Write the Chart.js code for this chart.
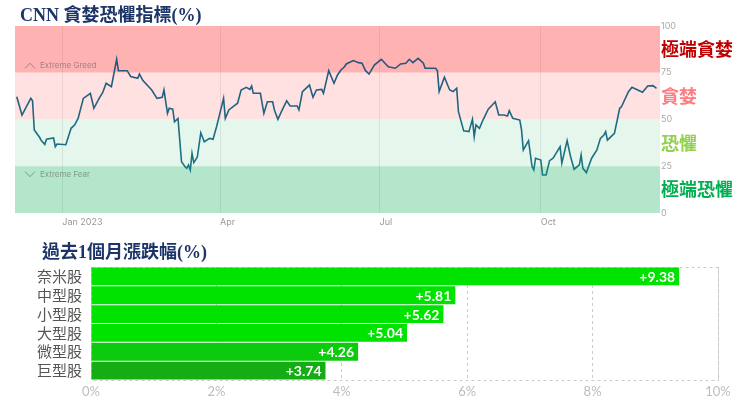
<!DOCTYPE html>
<html>
<head>
<meta charset="utf-8">
<script src="https://cdn.jsdelivr.net/npm/chart.js@4.4.0/dist/chart.umd.min.js"></script>
<style>
  body { margin: 0; background: #fff; }
  #wrap { position: relative; width: 740px; height: 399px; overflow: hidden; }
  #fgChart { position: absolute; left: 0; top: 0; }
  #barChart { position: absolute; left: 0; top: 233px; }
</style>
</head>
<body>
<div id="wrap">
  <canvas id="fgChart" width="740" height="233" style="width:740px;height:233px"></canvas>
  <canvas id="barChart" width="740" height="166" style="width:740px;height:166px"></canvas>
</div>
<script>
// ---- data for the fear & greed line (x = days since 1 Jan 2023) ----
let fgDays = [-26,-23,-18,-17,-16,-13,-12,-10,-9,-5,-4,-3,2,5,7,9,12,16,18,21,23,25,28,31,32,37,39,43,44,46,
  51,54,57,58,60,61,63,64,66,68,70,71,72,73,74,75,77,79,81,84,86,88,92,93,95,100,102,105,107,108,
  109,113,115,117,120,121,123,125,128,130,134,135,137,141,143,145,148,149,152,155,157,159,161,162,166,169,171,173,175,178,
  182,186,190,193,196,198,200,203,206,207,213,214,215,218,221,223,225,226,229,232,234,235,236,238,240,243,247,249,252,254,
  255,257,261,262,263,266,268,269,270,273,274,276,278,280,284,285,288,290,292,295,296,297,299,302,305,307,309,310,311,315,
  318,319,323,325,331,334,337,339]
let fgValues = [62.2,52.4,61.3,60,44.4,40.5,38.7,36.7,39.4,40.1,35.5,36.9,36.5,45.3,47,50.6,61.3,64,56,61.3,64.3,69.4,67.6,82.2,76.1,76.1,73,72,74.3,70.8,
  65.8,61.3,61.9,65.8,53.3,56,55.5,48.8,50.6,27.4,24.8,23.9,25.7,23,31.9,26.9,29.8,42.9,38.1,39.9,39.4,46.1,61.3,50.6,55.1,58.7,65.8,67.2,66.1,67.9,
  64,64,53.3,59.5,59.5,55.1,50.1,54.2,60,57.2,57.2,55.1,64.9,68.4,61.9,65.8,66.1,64,76.1,69.4,73.8,76.5,78.2,79.7,81.5,80.4,80.1,76.1,74.3,79.1,
  82.2,78.2,77.4,79.7,80.1,82.2,80.4,82.7,80.1,77.4,77.4,76.1,64.9,72.6,65.8,64.9,66.7,54.2,43.9,43.5,50.1,40.8,47.1,45.3,49.7,55.5,59.5,52.4,52.4,51.9,
  54.7,50.6,49.7,44.4,33.7,38.7,24.8,23,29.3,28.3,20.3,20.3,28,29.3,35.5,26.6,38.7,30.1,23.4,25.7,31,23.9,21.6,29.3,33.7,39.9,41.7,43.5,39,42.6,
  56,56.8,64.9,67.2,64.6,67.9,68.1,66.7]

// month ticks on the x axis
let monthDays = [0, 90, 181, 273]
let monthLabels = ['Jan 2023', 'Apr', 'Jul', 'Oct']

// zones of the index
let zoneFrom = [75, 50, 25, 0]
let zoneTo = [100, 75, 50, 25]
let zoneNames = ['極端貪婪', '貪婪', '恐懼', '極端恐懼']
let zoneFill = ['#ffb2b2', '#ffe1e1', '#e5f6ec', '#b3e6ca']
let zoneText = ['#c00000', '#ff7c80', '#92d050', '#00b050']

// ---- data for the 1 month change bars ----
let groups = ['奈米股', '中型股', '小型股', '大型股', '微型股', '巨型股']
let changes = [9.38, 5.81, 5.62, 5.04, 4.26, 3.74]
let barColors = ['#00e200', '#00e200', '#00e200', '#00e200', '#0ccb0c', '#14ad14']

let cjk = "'Noto Sans CJK TC', sans-serif"
let titleFont = "bold 18px 'Liberation Serif', 'Noto Sans CJK TC', serif"
let navy = '#1c3468'

// paint the coloured zones behind everything
let zonesPlugin = {
  id: 'zones',
  beforeDraw: function(chart) {
    let c = chart.ctx
    let a = chart.chartArea
    let y = chart.scales.y
    c.save()
    for (let i = 0; i < zoneFrom.length; i++) {
      let top = y.getPixelForValue(zoneTo[i])
      let bot = y.getPixelForValue(zoneFrom[i])
      c.fillStyle = zoneFill[i]
      c.fillRect(a.left, top, a.right - a.left, bot - top)
    }
    c.restore()
  },
  afterDraw: function(chart) {
    let c = chart.ctx
    let a = chart.chartArea
    let y = chart.scales.y
    c.save()
    // title
    c.font = titleFont
    c.fillStyle = navy
    c.textBaseline = 'middle'
    c.textAlign = 'left'
    c.fillText('CNN 貪婪恐懼指標(%)', 20, 16)
    // zone names on the right
    c.font = 'bold 18px ' + cjk
    for (let i = 0; i < zoneNames.length; i++) {
      c.fillStyle = zoneText[i]
      let mid = y.getPixelForValue((zoneFrom[i] + zoneTo[i]) / 2)
      c.fillText(zoneNames[i], a.right + 1, mid)
    }
    // small extreme greed / fear markers
    c.strokeStyle = 'rgba(90,90,90,0.55)'
    c.fillStyle = 'rgba(90,90,90,0.55)'
    c.lineWidth = 1
    c.font = '8px Inter, sans-serif'
    let gy = y.getPixelForValue(79)
    c.beginPath()
    c.moveTo(a.left + 10, gy + 3); c.lineTo(a.left + 15, gy - 2); c.lineTo(a.left + 20, gy + 3)
    c.stroke()
    c.fillText('Extreme Greed', a.left + 25, gy)
    let fy = y.getPixelForValue(20.5)
    c.beginPath()
    c.moveTo(a.left + 10, fy - 3); c.lineTo(a.left + 15, fy + 2); c.lineTo(a.left + 20, fy - 3)
    c.stroke()
    c.fillText('Extreme Fear', a.left + 25, fy)
    c.restore()
  }
}

let fgChart = new Chart(document.getElementById('fgChart'), {
  type: 'line',
  data: {
    datasets: [{
      data: fgDays.map(function(d, i) { return { x: d, y: fgValues[i] } }),
      borderColor: function(ctx) {
        let area = ctx.chart.chartArea
        if (!area) return '#245a86'
        let g = ctx.chart.ctx.createLinearGradient(0, area.top, 0, area.bottom)
        g.addColorStop(0, '#2b4a7c')
        g.addColorStop(1, '#158585')
        return g
      },
      borderWidth: 1.6,
      pointRadius: 0,
      tension: 0
    }]
  },
  options: {
    responsive: false,
    animation: false,
    layout: { padding: { top: 26, left: 15, right: 0, bottom: 0 } },
    plugins: { legend: { display: false }, tooltip: { enabled: false } },
    scales: {
      x: {
        type: 'linear',
        min: -27,
        max: 341,
        afterBuildTicks: function(axis) {
          axis.ticks = monthDays.map(function(d) { return { value: d } })
        },
        afterFit: function(axis) { axis.height = 20 },
        ticks: {
          align: 'start',
          padding: 4,
          color: '#999',
          font: { size: 9, family: 'Inter, sans-serif' },
          callback: function(v) {
            let k = monthDays.indexOf(v)
            return k >= 0 ? monthLabels[k] : ''
          }
        },
        grid: { color: 'rgba(0,0,0,0.07)', drawTicks: false },
        border: { display: false }
      },
      y: {
        position: 'right',
        min: 0,
        max: 100,
        afterFit: function(axis) { axis.width = 80 },
        ticks: {
          stepSize: 25,
          padding: 1,
          color: '#aaa',
          font: { size: 9, family: 'Inter, sans-serif' }
        },
        grid: { display: false, drawTicks: false },
        border: { display: false }
      }
    }
  },
  plugins: [zonesPlugin]
})

// dashed frame, title and value labels for the bar chart
let barDecor = {
  id: 'barDecor',
  beforeDatasetsDraw: function(chart) {
    let c = chart.ctx
    let a = chart.chartArea
    c.save()
    c.strokeStyle = '#cccccc'
    c.setLineDash([3, 3])
    c.lineWidth = 1
    c.strokeRect(a.left + 0.5, a.top + 0.5, a.right - a.left, a.bottom - a.top)
    c.restore()
  },
  afterDraw: function(chart) {
    let c = chart.ctx
    c.save()
    c.font = titleFont
    c.fillStyle = navy
    c.textBaseline = 'middle'
    c.fillText('過去1個月漲跌幅(%)', 42, 20)
    let meta = chart.getDatasetMeta(0)
    c.font = 'bold 14px Lato, sans-serif'
    c.fillStyle = '#fff'
    c.textAlign = 'right'
    for (let i = 0; i < meta.data.length; i++) {
      let bar = meta.data[i]
      c.fillText('+' + changes[i].toFixed(2), bar.x - 4, bar.y + 1)
    }
    c.restore()
  }
}

let barChart = new Chart(document.getElementById('barChart'), {
  type: 'bar',
  data: {
    labels: groups,
    datasets: [{
      data: changes,
      backgroundColor: barColors,
      categoryPercentage: 1,
      barPercentage: 0.95
    }]
  },
  options: {
    indexAxis: 'y',
    responsive: false,
    animation: false,
    layout: { padding: { top: 34, right: 22, left: 0, bottom: 0 } },
    plugins: { legend: { display: false }, tooltip: { enabled: false } },
    scales: {
      x: {
        min: 0,
        max: 10,
        afterFit: function(axis) { axis.height = 19 },
        ticks: {
          stepSize: 2,
          padding: 4,
          color: '#bdbdbd',
          font: { size: 13, family: 'Lato, sans-serif' },
          callback: function(v) { return v + '%' }
        },
        grid: { color: '#cccccc', drawTicks: false },
        border: { display: false, dash: [3, 3] }
      },
      y: {
        afterFit: function(axis) { axis.width = 91 },
        ticks: {
          autoSkip: false,
          padding: 9,
          color: '#555',
          font: { size: 15, family: cjk, lineHeight: 1 }
        },
        grid: { display: false, drawTicks: false },
        border: { display: false }
      }
    }
  },
  plugins: [barDecor]
})
</script>
</body>
</html>
